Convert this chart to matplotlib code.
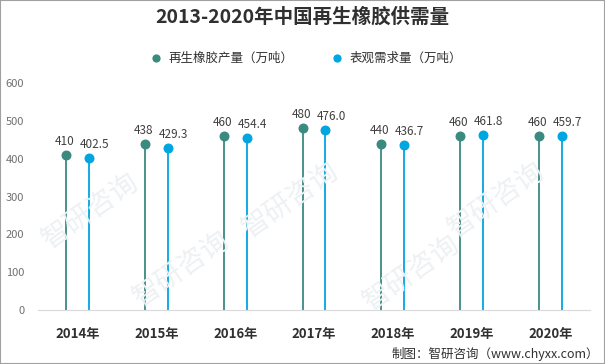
import matplotlib.pyplot as plt
import numpy as np

plt.rcParams['font.family'] = ['Noto Sans CJK SC', 'DejaVu Sans']

# 数据
years = ['2014年', '2015年', '2016年', '2017年', '2018年', '2019年', '2020年']
production = [410, 438, 460, 480, 440, 460, 460]
demand = [402.5, 429.3, 454.4, 476.0, 436.7, 461.8, 459.7]
prod_labels = ['410', '438', '460', '480', '440', '460', '460']
demand_labels = ['402.5', '429.3', '454.4', '476.0', '436.7', '461.8', '459.7']

green = '#3a8a80'
blue = '#00a6e0'

fig = plt.figure(figsize=(6.05, 3.64), dpi=100)
ax = fig.add_axes([0.063, 0.148, 0.912, 0.624])

x = np.arange(len(years))
off = 0.145

ax.vlines(x - off, 0, production, color=green, lw=1.3)
ax.vlines(x + off, 0, demand, color=blue, lw=1.3)
ax.scatter(x - off, production, s=38, color=green, zorder=3, label='再生橡胶产量（万吨）')
ax.scatter(x + off, demand, s=38, color=blue, zorder=3, label='表观需求量（万吨）')

for xi, v, t in zip(x - off, production, prod_labels):
    ax.annotate(t, (xi, v), xytext=(-1, 5), textcoords='offset points',
                ha='center', va='bottom', fontsize=8.5, color='#404040')
for xi, v, t in zip(x + off, demand, demand_labels):
    ax.annotate(t, (xi, v), xytext=(4, 5), textcoords='offset points',
                ha='center', va='bottom', fontsize=8.5, color='#404040')

ax.set_xlim(-0.5, len(years) - 0.5)
ax.set_ylim(0, 600)
ax.set_yticks(range(0, 601, 100))
ax.set_xticks(x)
ax.set_xticklabels(years, fontsize=9.5, fontweight='bold', color='#303030')
ax.tick_params(axis='y', length=0, labelsize=8, labelcolor='#707070', pad=10)
ax.tick_params(axis='x', length=0, pad=12)
for s in ['top', 'right', 'left']:
    ax.spines[s].set_visible(False)
ax.spines['bottom'].set_color('#d9d9d9')

fig.legend(loc='center', bbox_to_anchor=(0.5, 0.84), ncol=2, frameon=False,
           fontsize=9, handletextpad=0.0, columnspacing=2.5, markerscale=0.8,
           labelcolor='#303030')

fig.text(0.5, 0.952, '2013-2020年中国再生橡胶供需量', ha='center', va='center',
         fontsize=14, fontweight='bold', color='#303030')
fig.text(0.99, 0.028, '制图：智研咨询（www.chyxx.com）', ha='right', va='center',
         fontsize=9, color='#303030')

# 水印 (放在空白处)
for wx, wy in [(0.15, 0.42), (0.48, 0.45), (0.82, 0.45), (0.3, 0.26), (0.68, 0.25)]:
    fig.text(wx, wy, '智研咨询', fontsize=20, color='#eef1f4', rotation=35,
             ha='center', va='center', zorder=0)

border = plt.Rectangle((0, 0), 1, 1, transform=fig.transFigure, fill=False,
                       edgecolor='#a0a0a0', lw=1.5)
fig.patches.append(border)

fig.savefig('out.png', dpi=100)
